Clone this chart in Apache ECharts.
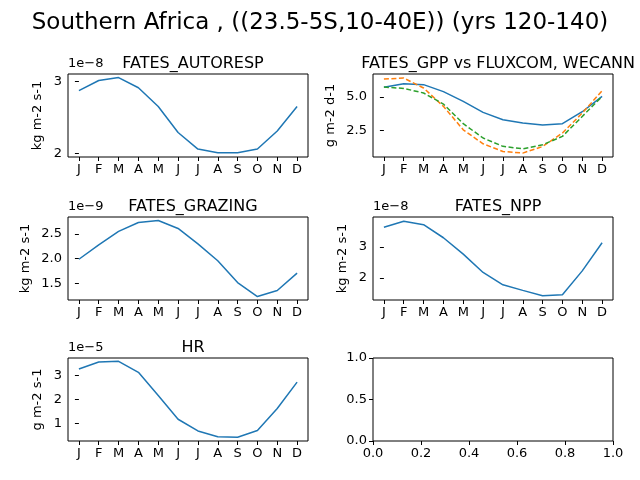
<!DOCTYPE html>
<html>
<head>
<meta charset="utf-8">
<script src="https://cdn.jsdelivr.net/npm/echarts@6/dist/echarts.min.js"></script>
<style>html,body{margin:0;padding:0;background:#fff}#main{width:640px;height:480px}</style>
</head>
<body>
<div id="main"></div>
<script>
// months
var months = ['J','F','M','A','M','J','J','A','S','O','N','D'];
// values in units of the axis offset (1e-8, 1e-9, ...)
var autoresp = [2.87,3.01,3.05,2.91,2.65,2.29,2.06,2.01,2.01,2.06,2.31,2.65];
var gppFates = [5.72,5.99,5.92,5.40,4.68,3.86,3.32,3.07,2.92,3.02,3.91,5.05];
var gppFluxcom = [6.34,6.41,5.67,4.31,2.57,1.53,0.96,0.84,1.33,2.33,3.81,5.47];
var gppWecann = [5.74,5.64,5.30,4.48,3.02,1.96,1.34,1.16,1.46,2.08,3.56,5.05];
var grazing = [1.99,2.28,2.55,2.73,2.77,2.61,2.30,1.96,1.52,1.24,1.36,1.71];
var npp = [3.64,3.83,3.72,3.30,2.77,2.18,1.78,1.60,1.43,1.46,2.23,3.14];
var hr = [3.28,3.57,3.60,3.14,2.17,1.18,0.69,0.45,0.43,0.71,1.63,2.73];

var font = 'DejaVu Sans';
var chart = echarts.init(document.getElementById('main'));

var panels = [
  {l:68, t:74, title:'FATES_AUTORESP', unit:'kg m-2 s-1', exp:'1e\u22128', min:1.95, max:3.10, ticks:[2,3], dec:0},
  {l:373, t:74, title:'FATES_GPP vs FLUXCOM, WECANN', unit:'g m-2 d-1', exp:'', min:0.55, max:6.71, ticks:[2.5,5.0], dec:1},
  {l:68, t:217, title:'FATES_GRAZING', unit:'kg m-2 s-1', exp:'1e\u22129', min:1.17, max:2.84, ticks:[1.5,2.0,2.5], dec:1},
  {l:373, t:217, title:'FATES_NPP', unit:'kg m-2 s-1', exp:'1e\u22128', min:1.29, max:3.97, ticks:[2,3], dec:0},
  {l:68, t:358, title:'HR', unit:'g m-2 s-1', exp:'1e\u22125', min:0.27, max:3.74, ticks:[1,2,3], dec:0},
  {l:373, t:358, title:'', unit:'', exp:'', min:0, max:1, ticks:[0,0.5,1], dec:1, empty:true}
];
var W = 240, H = 83;

var grid = [], xAxis = [], yAxis = [], title = [], graphic = [];
title.push({text:'Southern Africa , ((23.5-5S,10-40E)) (yrs 120-140)', left:'center', top:7,
  textStyle:{fontFamily:font, fontSize:23, fontWeight:'normal', color:'#000'}});
var axisText = {fontFamily:font, fontSize:13, color:'#000'};
panels.forEach(function(p, i){
  grid.push({left:p.l, top:p.t, width:W, height:H, show:true, borderColor:'#000', borderWidth:1, backgroundColor:'transparent'});
  if (p.empty) {
    xAxis.push({gridIndex:i, type:'value', min:0, max:1, interval:0.2,
      axisLine:{show:false}, splitLine:{show:false},
      axisTick:{show:true, length:4, lineStyle:{color:'#000'}},
      axisLabel:Object.assign({margin:6, formatter:function(v){return v.toFixed(1);}}, axisText)});
  } else {
    xAxis.push({gridIndex:i, type:'value', min:-0.55, max:11.55,
      axisLine:{show:false}, splitLine:{show:false},
      axisTick:{show:true, length:4, lineStyle:{color:'#000'}, customValues:[0,1,2,3,4,5,6,7,8,9,10,11]},
      axisLabel:Object.assign({margin:6, customValues:[0,1,2,3,4,5,6,7,8,9,10,11],
        formatter:function(v){return months[Math.round(v)];}}, axisText)});
  }
  yAxis.push({gridIndex:i, type:'value', min:p.min, max:p.max,
    name:p.unit, nameLocation:'middle', nameRotate:90, nameGap: p.dec ? 36 : 24,
    nameTextStyle:{fontFamily:font, fontSize:13, color:'#000'},
    axisLine:{show:false}, splitLine:{show:false},
    axisTick:{show:true, length:4, lineStyle:{color:'#000'}, customValues:p.ticks},
    axisLabel:Object.assign({margin:6, customValues:p.ticks,
      formatter:(function(d){return function(v){return v.toFixed(d);};})(p.dec)}, axisText)});
  if (p.title) title.push({text:p.title, left:p.l + W/2, top:p.t - 23, textAlign:'center',
    textStyle:{fontFamily:font, fontSize:16, fontWeight:'normal', color:'#000'}});
  if (p.exp) graphic.push({type:'text', left:p.l, top:p.t - 17,
    style:{text:p.exp, font:'13px "DejaVu Sans"', fill:'#000'}});
});

function pts(arr){ return arr.map(function(v, k){ return [k, v]; }); }
function line(idx, arr, color, dashed){
  return {type:'line', xAxisIndex:idx, yAxisIndex:idx, data:pts(arr), showSymbol:false, animation:false,
    lineStyle:{color:color, width:1.5, type: dashed ? [5,2.5] : 'solid'}};
}
var blue = '#1f77b4';
var series = [
  line(0, autoresp, blue),
  line(1, gppFates, blue),
  line(1, gppFluxcom, '#ff7f0e', true),
  line(1, gppWecann, '#2ca02c', true),
  line(2, grazing, blue),
  line(3, npp, blue),
  line(4, hr, blue)
];

chart.setOption({animation:false, backgroundColor:'#fff', title:title, grid:grid,
  xAxis:xAxis, yAxis:yAxis, series:series, graphic:graphic});
</script>
</body>
</html>
